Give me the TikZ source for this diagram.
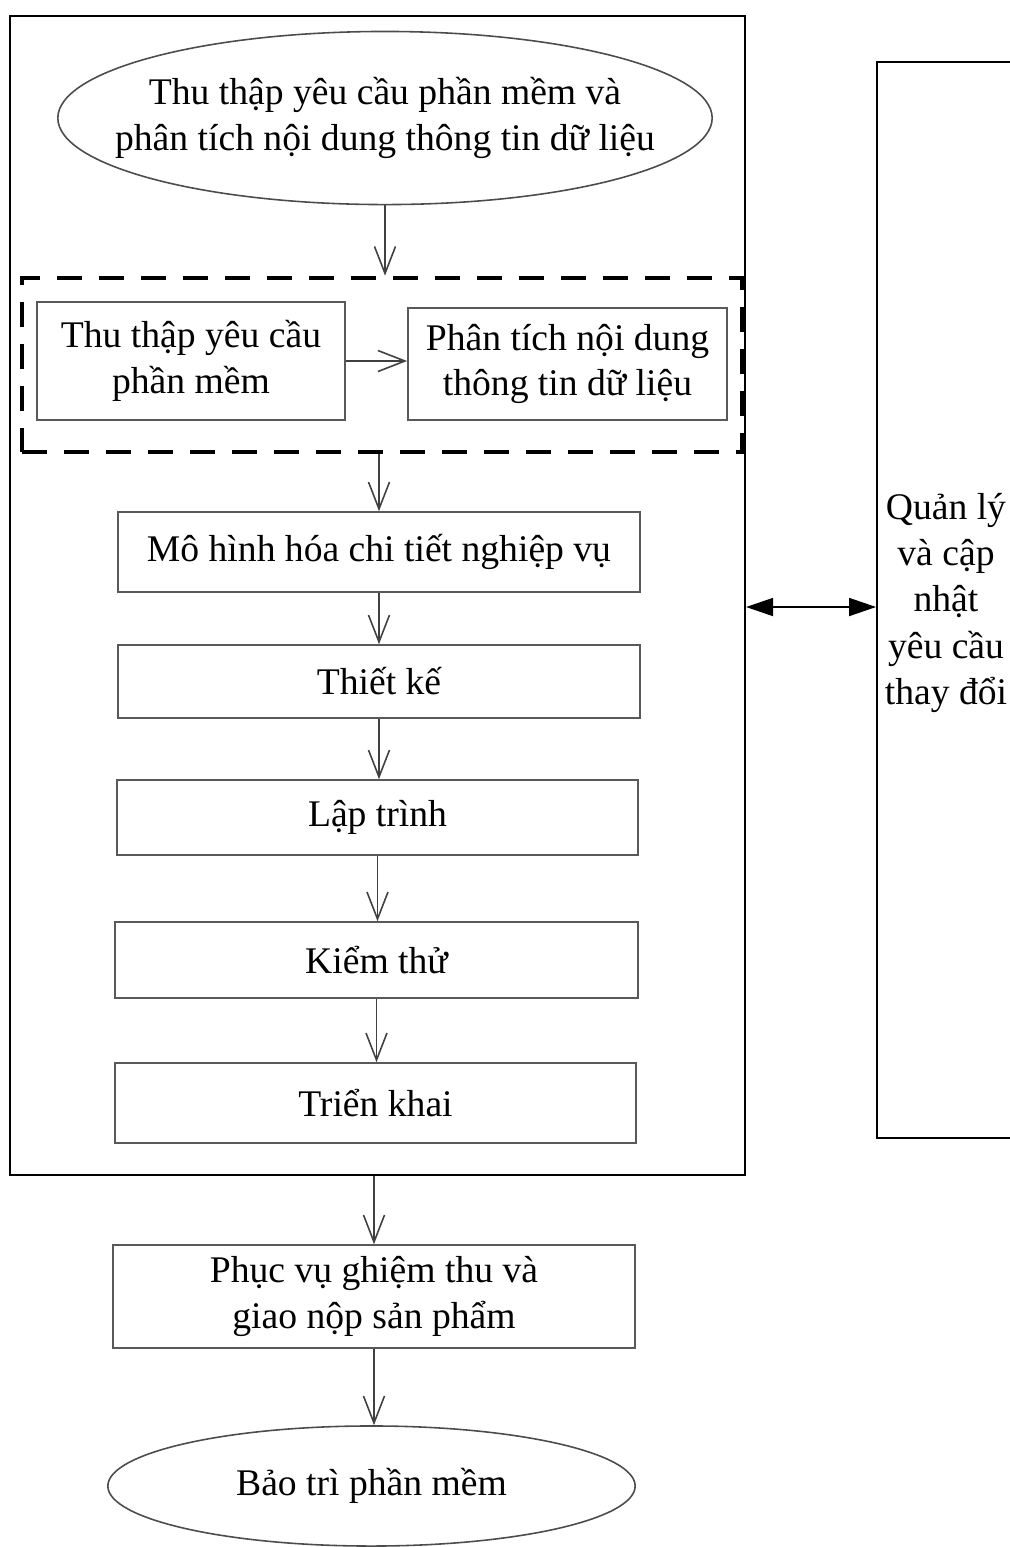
\documentclass[tikz,border=0pt]{standalone}
\usepackage{fontspec}
\setmainfont{Liberation Serif}
\usepackage{tikz}
\usetikzlibrary{
  shapes.geometric,      % ellipse nodes
  arrows.meta            % Straight Barb, Triangle tips
}
\tikzset{
  buoc/.style={rectangle, draw=black!65, line width=0.45pt, inner sep=0pt, align=center},
  vong/.style={ellipse, draw=black!70, line width=0.45pt, inner sep=0pt, align=center},
  nhom/.style={rectangle, draw=black, line width=1.3pt, dash pattern=on 0.25cm off 0.17cm, inner sep=0pt},
  khungngoai/.style={rectangle, draw=black, line width=0.5pt, inner sep=0pt},
  muiten/.style={draw=black!75, line width=0.45pt, -{Straight Barb[length=2.7mm,width=2.1mm]}},
  haichieu/.style={draw=black, line width=0.5pt, {Triangle[length=2.7mm,width=1.8mm]}-{Triangle[length=2.7mm,width=1.8mm]}}
}

\begin{document}
\begin{tikzpicture}[x=0.01cm, y=-0.01cm, font=\fontsize{10.7pt}{13pt}\selectfont]
            \useasboundingbox (0,0) rectangle (1010,1547);
            \node[khungngoai, minimum width=7.35cm, minimum height=11.59cm] (quytrinh) at (377.5,595.5) {};
            \node[vong, inner xsep=-0.42cm, minimum width=6.54cm, minimum height=1.73cm] (thuthap) at (385,118)
                {Thu thập yêu cầu phần mềm và\\phân tích nội dung thông tin dữ liệu};
            \node[nhom, minimum width=7.2cm, minimum height=1.74cm] (giaidoan) at (382,365) {};
            \node[buoc, minimum width=3.08cm, minimum height=1.18cm] (yeucau) at (191,361)
                {Thu thập yêu cầu\\phần mềm};
            \node[buoc, minimum width=3.19cm, minimum height=1.12cm] (phantich) at (567.5,364)
                {Phân tích nội dung\\thông tin dữ liệu};
            \node[buoc, minimum width=5.22cm, minimum height=0.80cm] (mohinh) at (379,552)
                {Mô hình hóa chi tiết nghiệp vụ};
            \node[buoc, minimum width=5.22cm, minimum height=0.73cm] (thietke) at (379,681.5) {Thiết kế};
            \node[buoc, minimum width=5.21cm, minimum height=0.75cm] (laptrinh) at (377.5,817.5) {Lập trình};
            \node[buoc, minimum width=5.23cm, minimum height=0.76cm] (kiemthu) at (376.5,960) {Kiểm thử};
            \node[buoc, minimum width=5.21cm, minimum height=0.80cm] (trienkhai) at (375.5,1103) {Triển khai};
            \node[buoc, minimum width=5.22cm, minimum height=1.03cm] (nghiemthu) at (374,1296.5)
                {Phục vụ ghiệm thu và\\giao nộp sản phẩm};
            \node[vong, minimum width=5.27cm, minimum height=1.2cm] (baotri) at (371.5,1486) {Bảo trì phần mềm};
            \node[khungngoai, minimum width=1.38cm, minimum height=10.76cm, align=center,
                  font=\fontsize{10.7pt}{13.1pt}\selectfont] (quanly) at (946,600)
                {\\[-4pt]Quản lý\\và cập\\nhật\\yêu cầu\\thay đổi};
            \coordinate (ngang) at (0,607);
            \draw[muiten] (thuthap.south) -- (thuthap.south |- giaidoan.north);
            \draw[muiten] (yeucau.east) -- (yeucau.east -| phantich.west);
            \draw[muiten] (giaidoan.south -| mohinh.north) -- (mohinh.north);
            \draw[muiten] (mohinh.south) -- (mohinh.south |- thietke.north);
            \draw[muiten] (thietke.south) -- (thietke.south |- laptrinh.north);
            \draw[muiten] (laptrinh.south) -- (laptrinh.south |- kiemthu.north);
            \draw[muiten] (kiemthu.south) -- (kiemthu.south |- trienkhai.north);
            \draw[muiten] (quytrinh.south -| nghiemthu.north) -- (nghiemthu.north);
            \draw[muiten] (nghiemthu.south) -- (nghiemthu.south |- baotri.north);
            \draw[haichieu] (quytrinh.east |- ngang) -- (quanly.west |- ngang);
\end{tikzpicture}
\end{document}
